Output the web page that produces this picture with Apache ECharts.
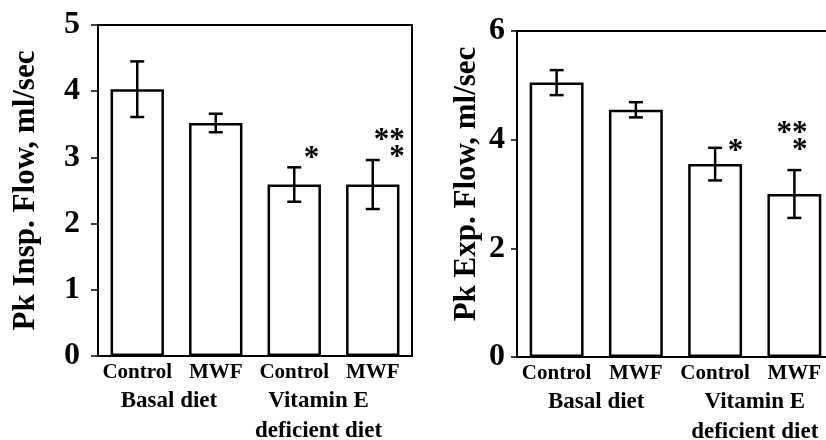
<!DOCTYPE html>
<html><head><meta charset="utf-8">
<script src="https://cdn.jsdelivr.net/npm/echarts@6/dist/echarts.min.js"></script>
<style>html,body{margin:0;padding:0;background:#fff}#c{width:826px;height:440px}</style>
</head><body><div id="c"></div>
<script>
const categories = ['Control', 'MWF', 'Control', 'MWF'];
const groups = ['Basal diet', 'Vitamin E\ndeficient diet'];
const inspMean = [4.03, 3.52, 2.59, 2.59];
const inspErr = [0.42, 0.14, 0.26, 0.37];
const expMean = [5.05, 4.55, 3.55, 3.00];
const expErr = [0.23, 0.14, 0.30, 0.44];
const signif = ['', '', '*', '**\n*'];
const leftTicks = [0, 1, 2, 3, 4, 5];
const rightTicks = [0, 2, 4, 6];

// layout offsets (pixels) for significance marks
const leftStarOff = [[0,0],[0,0],[25,0],[32,6]];
const rightStarOff = [[0,0],[0,0],[28,13],[13,-11]];

const FONT = '"Liberation Serif", "Times New Roman", serif';
const chart = echarts.init(document.getElementById('c'), null, {renderer:'canvas'});

function errSeries(xi, mean, err, offs) {
  return {
    type: 'custom', xAxisIndex: xi, yAxisIndex: xi, z: 5,
    data: mean.map((m, i) => [i, m, err[i], signif[i]]),
    renderItem(params, api) {
      const i = api.value(0), m = api.value(1), e = api.value(2);
      const top = api.coord([i, m + e]);
      const bot = api.coord([i, m - e]);
      const hw = 7;
      const st = {stroke: '#000', lineWidth: 2.5};
      const children = [
        {type:'line', shape:{x1:top[0], y1:top[1], x2:bot[0], y2:bot[1]}, style:st},
        {type:'line', shape:{x1:top[0]-hw, y1:top[1], x2:top[0]+hw, y2:top[1]}, style:st},
        {type:'line', shape:{x1:bot[0]-hw, y1:bot[1], x2:bot[0]+hw, y2:bot[1]}, style:st}
      ];
      const s = signif[i];
      if (s) {
        const o = offs[i];
        children.push({type:'text', x: top[0] + o[0], y: top[1] + o[1],
          style:{text: s, font: 'bold 31px ' + FONT, fill:'#000', align:'right', verticalAlign:'bottom', lineHeight: 17}});
      }
      return {type:'group', children};
    }
  };
}

const labelStyle = {fontFamily: FONT, fontWeight: 'bold', color: '#000'};

chart.setOption({
  animation: false,
  backgroundColor: '#fff',
  grid: [
    {left: 98, right: 414, top: 25, bottom: 84, outerBoundsMode: 'none', containLabel: false,
     show: true, borderColor: '#000', borderWidth: 2, backgroundColor: 'transparent'},
    {left: 517, right: -8, top: 31, bottom: 83, outerBoundsMode: 'none', containLabel: false,
     show: true, borderColor: '#000', borderWidth: 2, backgroundColor: 'transparent'}
  ],
  xAxis: [
    {type:'category', gridIndex:0, data: categories, axisLine:{lineStyle:{color:'#000', width:2}}, axisTick:{show:false},
     axisLabel:{...labelStyle, fontSize:21, margin:6, interval:0}},
    {type:'category', gridIndex:1, data: categories, axisLine:{lineStyle:{color:'#000', width:2}}, axisTick:{show:false},
     axisLabel:{...labelStyle, fontSize:21, margin:6, interval:0}},
    {type:'category', gridIndex:0, position:'bottom', data: groups, axisLine:{show:false}, axisTick:{show:false},
     axisLabel:{...labelStyle, fontSize:23, margin:30, lineHeight:30, interval:0,
       formatter: (v, idx) => idx === 0 ? '{a|' + v + '}' : v.split('\n').map(t => '{b|' + t + '}').join('\n'),
       rich: {a:{...labelStyle, fontSize:23, lineHeight:30, padding:[0,15,0,0]}, b:{...labelStyle, fontSize:23, lineHeight:30, padding:[0,30,0,0]}}}},
    {type:'category', gridIndex:1, position:'bottom', data: groups, axisLine:{show:false}, axisTick:{show:false},
     axisLabel:{...labelStyle, fontSize:23, margin:30, lineHeight:30, interval:0}}
  ],
  yAxis: [
    {type:'value', gridIndex:0, min: leftTicks[0], max: leftTicks[leftTicks.length-1], interval: 1,
     name: 'Pk Insp. Flow, ml/sec', nameLocation:'middle', nameGap: 57, nameRotate: 90,
     nameTextStyle:{...labelStyle, fontSize:31},
     axisLine:{show:true, lineStyle:{color:'#000', width:2}}, axisTick:{show:true, length:7, lineStyle:{color:'#000', width:1.5}},
     splitLine:{show:false}, axisLabel:{...labelStyle, fontSize:32, margin:18}},
    {type:'value', gridIndex:1, min: rightTicks[0], max: rightTicks[rightTicks.length-1], interval: 2,
     name: 'Pk Exp. Flow, ml/sec', nameLocation:'middle', nameGap: 35, nameRotate: 90,
     nameTextStyle:{...labelStyle, fontSize:31, padding:[0,0,0,20]},
     axisLine:{show:true, lineStyle:{color:'#000', width:2}}, axisTick:{show:true, length:6, lineStyle:{color:'#000', width:1.5}},
     splitLine:{show:false}, axisLabel:{...labelStyle, fontSize:32, margin:12}}
  ],
  series: [
    {type:'bar', xAxisIndex:0, yAxisIndex:0, data: inspMean, barCategoryGap:'32%',
     itemStyle:{color:'#fff', borderColor:'#000', borderWidth:2.5}},
    {type:'bar', xAxisIndex:1, yAxisIndex:1, data: expMean, barCategoryGap:'32%',
     itemStyle:{color:'#fff', borderColor:'#000', borderWidth:2.5}},
    errSeries(0, inspMean, inspErr, leftStarOff),
    errSeries(1, expMean, expErr, rightStarOff)
  ]
});
</script></body></html>
